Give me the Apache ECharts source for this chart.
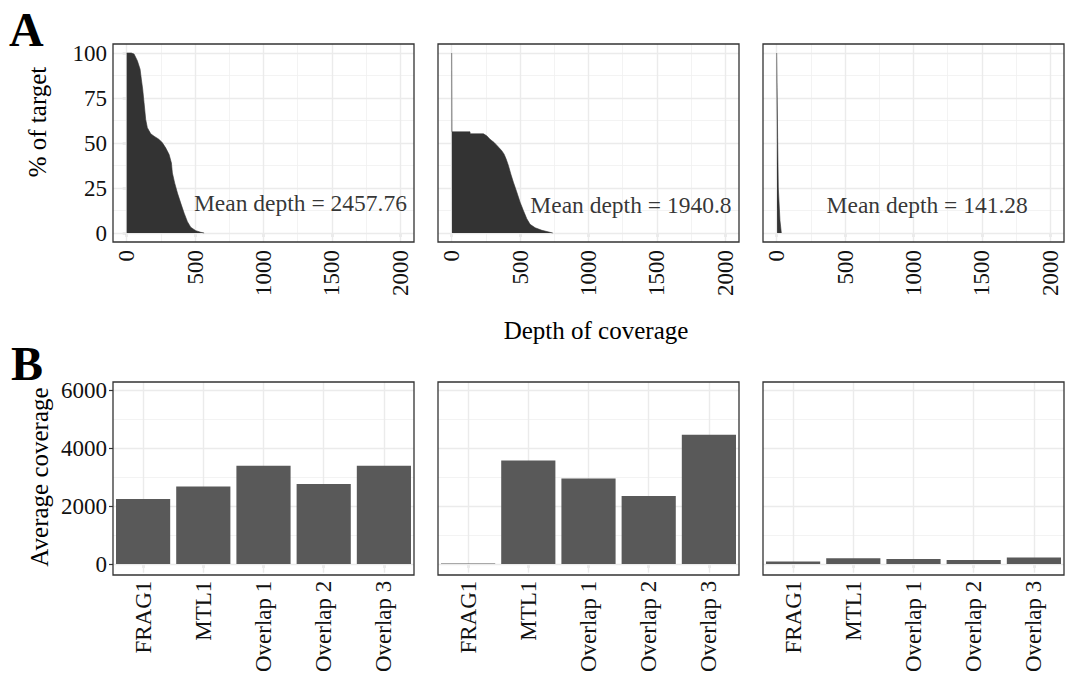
<!DOCTYPE html>
<html>
<head>
<meta charset="utf-8">
<title>Depth of coverage</title>
<script src="https://cdn.jsdelivr.net/npm/echarts@6/dist/echarts.min.js"></script>
<style>
  html, body { margin: 0; padding: 0; background: #fff; }
  #chart { width: 1067px; height: 675px; }
</style>
</head>
<body>
<div id="chart"></div>
<script>
// panel A: % of target covered at >= depth
var depth1 = [0, 34, 54, 78, 98, 107, 117, 127, 139, 151, 176, 200, 237, 261, 285, 310, 327, 334, 351, 371, 395, 420, 444, 468, 505, 541, 566];
var pct1   = [100, 100, 99.4, 95.7, 91, 85.5, 79.9, 72.4, 63.1, 58.5, 55.1, 53.8, 52, 50.1, 47.3, 43.6, 38.9, 33.3, 27.7, 22.2, 16.6, 11, 6.3, 3.2, 1.3, 0.4, 0];
var depth2 = [0, 2, 134, 135, 232, 256, 280, 310, 334, 366, 383, 398, 415, 432, 451, 476, 500, 524, 549, 573, 610, 659, 739];
var pct2   = [100, 56.2, 56.2, 55.1, 55.1, 54, 52.1, 50.3, 48.4, 45.7, 43.8, 41.1, 37.4, 32.8, 28.2, 22.7, 17.1, 12.5, 7.9, 4.8, 2.9, 1.5, 0];
var depth3 = [0, 3, 7, 12, 24, 34];
var pct3   = [100, 81, 53, 25, 7, 0];

var meanText = ['Mean depth = 2457.76', 'Mean depth = 1940.8', 'Mean depth = 141.28'];
var meanX = [1270, 1310, 1100];
var meanY = [16.5, 15.8, 15.8];

// panel B: average coverage per region
var regions = ['FRAG1', 'MTL1', 'Overlap 1', 'Overlap 2', 'Overlap 3'];
var cov1 = [2250, 2680, 3400, 2770, 3400];
var cov2 = [20, 3580, 2960, 2350, 4470];
var cov3 = [90, 197, 173, 138, 221];

var depthTicks = [0, 500, 1000, 1500, 2000];
var depthMinor = [250, 750, 1250, 1750];
var pctTicks = [0, 25, 50, 75, 100];
var pctMinor = [12.5, 37.5, 62.5, 87.5];
var covTicks = [0, 2000, 4000, 6000];
var covMinor = [1000, 3000, 5000];

var FONT = 'Liberation Serif';
var panelLeft = [113, 438, 763];
var panelW = 301;
var topRow = { top: 44, height: 198 };
var botRow = { top: 382, height: 193 };

var depths = [depth1, depth2, depth3];
var pcts = [pct1, pct2, pct3];
var covs = [cov1, cov2, cov3];

function zip(a, b) {
    return a.map(function (v, i) { return [v, b[i]]; });
}

// ggplot-like grid lines, drawn under the data
function gridLines(xMajor, xMinor, yMajor, yMinor) {
    var out = [];
    var major = { color: '#EBEBEB', width: 1.4, type: 'solid' };
    var minor = { color: '#F0F0F0', width: 0.8, type: 'solid' };
    xMinor.forEach(function (v) { out.push({ xAxis: v, lineStyle: minor }); });
    yMinor.forEach(function (v) { out.push({ yAxis: v, lineStyle: minor }); });
    xMajor.forEach(function (v) { out.push({ xAxis: v, lineStyle: major }); });
    yMajor.forEach(function (v) { out.push({ yAxis: v, lineStyle: major }); });
    return {
        silent: true,
        symbol: ['none', 'none'],
        z: 1,
        animation: false,
        label: { show: false },
        emphasis: { disabled: true },
        data: out
    };
}

function plain(v) { return String(v); }

var tickLabel = { fontFamily: FONT, fontSize: 23, color: '#111' };
var tickLine = { show: true, length: 4, lineStyle: { color: '#333', width: 1.2 } };

var grids = [], xAxes = [], yAxes = [], series = [], graphics = [];

for (var i = 0; i < 3; i++) {
    grids.push({ left: panelLeft[i], top: topRow.top, width: panelW, height: topRow.height, containLabel: false });
}
for (var i = 0; i < 3; i++) {
    grids.push({ left: panelLeft[i], top: botRow.top, width: panelW, height: botRow.height, containLabel: false });
}

// top row axes + series
for (var i = 0; i < 3; i++) {
    xAxes.push({
        gridIndex: i, type: 'value', min: -100, max: 2100,
        axisLine: { show: false },
        splitLine: { show: false },
        axisTick: Object.assign({ customValues: depthTicks }, tickLine),
        axisLabel: Object.assign({ customValues: depthTicks, rotate: 90, margin: 8, formatter: plain }, tickLabel)
    });
    yAxes.push({
        gridIndex: i, type: 'value', min: -5, max: 105,
        axisLine: { show: false },
        splitLine: { show: false },
        axisTick: Object.assign({ customValues: pctTicks }, tickLine, { show: i === 0 }),
        axisLabel: Object.assign({ customValues: pctTicks, margin: 6, show: i === 0, formatter: plain }, tickLabel)
    });
    series.push({
        type: 'line', xAxisIndex: i, yAxisIndex: i,
        data: zip(depths[i], pcts[i]),
        symbol: 'none', silent: true, z: 2,
        lineStyle: { color: '#333333', width: 0.6 },
        areaStyle: { color: '#333333', opacity: 1 },
        markLine: gridLines(depthTicks, depthMinor, pctTicks, pctMinor)
    });
    series.push({
        type: 'scatter', xAxisIndex: i, yAxisIndex: i,
        data: [[meanX[i], meanY[i]]],
        symbolSize: 1, silent: true, z: 5,
        itemStyle: { color: 'rgba(0,0,0,0)' },
        label: { show: true, position: 'inside', formatter: meanText[i], fontFamily: FONT, fontSize: 23.5, color: '#000' }
    });
}

// bottom row axes + series
for (var i = 0; i < 3; i++) {
    var g = i + 3;
    xAxes.push({
        gridIndex: g, type: 'category', data: regions,
        axisLine: { show: false },
        splitLine: { show: false },
        axisTick: Object.assign({ alignWithLabel: true }, tickLine),
        axisLabel: Object.assign({ rotate: 90, margin: 8, interval: 0 }, tickLabel)
    });
    yAxes.push({
        gridIndex: g, type: 'value', min: -300, max: 6300,
        axisLine: { show: false },
        splitLine: { show: false },
        axisTick: Object.assign({ customValues: covTicks }, tickLine, { show: i === 0 }),
        axisLabel: Object.assign({ customValues: covTicks, margin: 6, show: i === 0, formatter: plain }, tickLabel)
    });
    series.push({
        type: 'bar', xAxisIndex: g, yAxisIndex: g,
        data: covs[i],
        barCategoryGap: '10%', silent: true, z: 2,
        itemStyle: { color: '#595959' },
        markLine: gridLines(regions, [], covTicks, covMinor)
    });
}

// panel borders
for (var r = 0; r < 2; r++) {
    var row = r === 0 ? topRow : botRow;
    for (var i = 0; i < 3; i++) {
        graphics.push({
            type: 'rect', silent: true, z: 100,
            shape: { x: panelLeft[i], y: row.top, width: panelW, height: row.height },
            style: { fill: 'none', stroke: '#333333', lineWidth: 1.3 }
        });
    }
}

function label(text, x, y, size, opts) {
    opts = opts || {};
    return {
        type: 'text', x: x, y: y, rotation: opts.rotation || 0, silent: true, z: 100,
        style: {
            text: text, fill: '#000',
            font: (opts.bold ? 'bold ' : '') + size + 'px "' + FONT + '"',
            align: opts.align || 'center', verticalAlign: 'middle',
            textAlign: opts.align || 'center', textVerticalAlign: 'middle'
        }
    };
}

graphics.push(label('A', 9, 29, 48, { bold: true, align: 'left' }));
graphics.push(label('B', 11, 363, 48, { bold: true, align: 'left' }));
graphics.push(label('% of target', 37, 122, 25, { rotation: Math.PI / 2 }));
graphics.push(label('Depth of coverage', 596, 330, 25));
graphics.push(label('Average coverage', 39, 477, 25, { rotation: Math.PI / 2 }));

var myChart = echarts.init(document.getElementById('chart'), null, { renderer: 'svg' });
myChart.setOption({
    animation: false,
    backgroundColor: '#ffffff',
    textStyle: { fontFamily: FONT },
    grid: grids,
    xAxis: xAxes,
    yAxis: yAxes,
    series: series,
    graphic: graphics
});
</script>
</body>
</html>
